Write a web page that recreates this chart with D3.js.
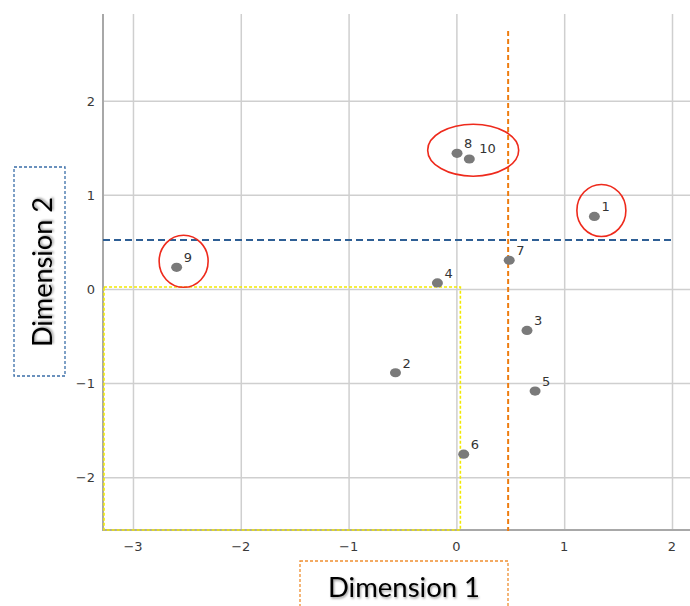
<!DOCTYPE html>
<html><head><meta charset="utf-8">
<script src="https://cdn.jsdelivr.net/npm/d3@7"></script>
<style>body{margin:0;background:#fff}svg{display:block}</style>
</head><body>
<svg id="c" width="690" height="606"></svg>
<script>
// Data
const labels = ["1","2","3","4","5","6","7","8","9","10"];
const dim1 = [1.28, -0.565, 0.655, -0.176, 0.73, 0.068, 0.49, 0.006, -2.595, 0.12];
const dim2 = [0.77, -0.89, -0.44, 0.064, -1.085, -1.755, 0.305, 1.44, 0.23, 1.38];
const xTicks = [-3, -2, -1, 0, 1, 2];
const yTicks = [-2, -1, 0, 1, 2];
const refX = 0.48;     // orange vertical dashed reference
const refY = 0.52;     // blue horizontal dashed reference
const boxX = [-3.278, 0.037]; // yellow region
const boxY = [-2.56, 0.02];
const circled = [["9"], ["8","10"], ["1"]];
const xTitle = "Dimension 1", yTitle = "Dimension 2";

const svg = d3.select("#c");
const x = d3.scaleLinear().domain([-3.278, 2.167]).range([103, 690]);
const y = d3.scaleLinear().domain([-2.56, 2.92]).range([530, 14]);

const defs = svg.append("defs");
const f = defs.append("filter").attr("id","sh").attr("x","-10%").attr("y","-20%").attr("width","130%").attr("height","160%");
f.append("feDropShadow").attr("dx",1).attr("dy",1.5).attr("stdDeviation",1.3).attr("flood-color","#000").attr("flood-opacity",0.4);

// gridlines
svg.append("g").attr("transform","translate(0,530)")
  .call(d3.axisBottom(x).tickValues(xTicks).tickSize(-516).tickFormat(""))
  .call(g=>g.select(".domain").remove())
  .call(g=>g.selectAll("line").attr("stroke","#cfcfcf").attr("stroke-width",1.5));
svg.append("g").attr("transform","translate(103,0)")
  .call(d3.axisLeft(y).tickValues(yTicks).tickSize(-587).tickFormat(""))
  .call(g=>g.select(".domain").remove())
  .call(g=>g.selectAll("line").attr("stroke","#cfcfcf").attr("stroke-width",1.5));

// axis lines
svg.append("line").attr("x1",103).attr("x2",103).attr("y1",14).attr("y2",531).attr("stroke","#a8a8a8").attr("stroke-width",2);
svg.append("line").attr("x1",102).attr("x2",690).attr("y1",530).attr("y2",530).attr("stroke","#a8a8a8").attr("stroke-width",2);

// tick labels
const fmt = d => d3.format("")(d).replace("-", "\u2212");
svg.append("g").selectAll("text").data(xTicks).join("text")
  .attr("x", d=>x(d)).attr("y", 551).attr("text-anchor","middle")
  .attr("font-family","DejaVu Sans, sans-serif").attr("font-size",13).attr("fill","#3a3a3a").text(fmt);
svg.append("g").selectAll("text").data(yTicks).join("text")
  .attr("x", 95).attr("y", d=>y(d)+5).attr("text-anchor","end")
  .attr("font-family","DejaVu Sans, sans-serif").attr("font-size",13).attr("fill","#3a3a3a").text(fmt);

// yellow box
svg.append("rect").attr("x", x(boxX[0])+1).attr("y", y(boxY[1]))
  .attr("width", x(boxX[1])-x(boxX[0])-1).attr("height", y(boxY[0])-y(boxY[1]))
  .attr("fill","none").attr("stroke","#f2ea00").attr("stroke-width",1.6).attr("stroke-dasharray","3,2");

// reference lines
svg.append("line").attr("x1",x(-3.278)).attr("x2",x(2.02)).attr("y1",y(refY)).attr("y2",y(refY))
  .attr("stroke","#2e5f95").attr("stroke-width",2).attr("stroke-dasharray","7,4");
svg.append("line").attr("x1",x(refX)).attr("x2",x(refX)).attr("y1",y(2.74)).attr("y2",y(-2.57))
  .attr("stroke","#ee7d10").attr("stroke-width",2).attr("stroke-dasharray","5,3");

// points
const pts = labels.map((l,i)=>({l, x:dim1[i], y:dim2[i]}));
svg.append("g").selectAll("ellipse").data(pts).join("ellipse")
  .attr("cx", d=>x(d.x)).attr("cy", d=>y(d.y)).attr("rx",5.5).attr("ry",4.6).attr("fill","#7a7a7a");
svg.append("g").selectAll("text").data(pts).join("text")
  .attr("x", d=>x(d.x)+7).attr("y", d=>y(d.y)-5)
  .attr("dx", d=> d.l==="10" ? 3 : 0).attr("dy", d=> d.l==="10" ? -1 : 0)
  .attr("font-family","DejaVu Sans, sans-serif").attr("font-size",13).attr("fill","#333").text(d=>d.l);

// red circles around groups
circled.forEach(grp=>{
  const g = pts.filter(p=>grp.includes(p.l));
  const xs = g.map(p=>x(p.x)), ys = g.map(p=>y(p.y));
  const cx = d3.mean(xs)+ (grp.length>1?10:7), cy = d3.mean(ys)-6;
  const rx = grp.length>1 ? 45.5 : 24.5, ry = 26;
  svg.append("ellipse").attr("cx",cx).attr("cy",cy).attr("rx",rx).attr("ry",ry)
    .attr("fill","none").attr("stroke","#ee2a1c").attr("stroke-width",1.6);
});

// axis titles
svg.append("rect").attr("x",300).attr("y",561).attr("width",208).attr("height",50)
  .attr("fill","none").attr("stroke","#ef8f30").attr("stroke-width",1.3).attr("stroke-dasharray","3,2");
svg.append("text").attr("x",404).attr("y",597).attr("text-anchor","middle")
  .attr("font-family","Lato, 'Open Sans', sans-serif").attr("font-size",26).attr("fill","#000")
  .attr("textLength",152).attr("lengthAdjust","spacingAndGlyphs").attr("filter","url(#sh)").text(xTitle);
svg.append("rect").attr("x",14).attr("y",167).attr("width",51).attr("height",209)
  .attr("fill","none").attr("stroke","#3a6ea8").attr("stroke-width",1.3).attr("stroke-dasharray","3,2");
svg.append("text").attr("transform","translate(52,272) rotate(-90)").attr("text-anchor","middle")
  .attr("font-family","Lato, 'Open Sans', sans-serif").attr("font-size",26).attr("fill","#000")
  .attr("textLength",150).attr("lengthAdjust","spacingAndGlyphs").attr("filter","url(#sh)").text(yTitle);
</script>
</body></html>
